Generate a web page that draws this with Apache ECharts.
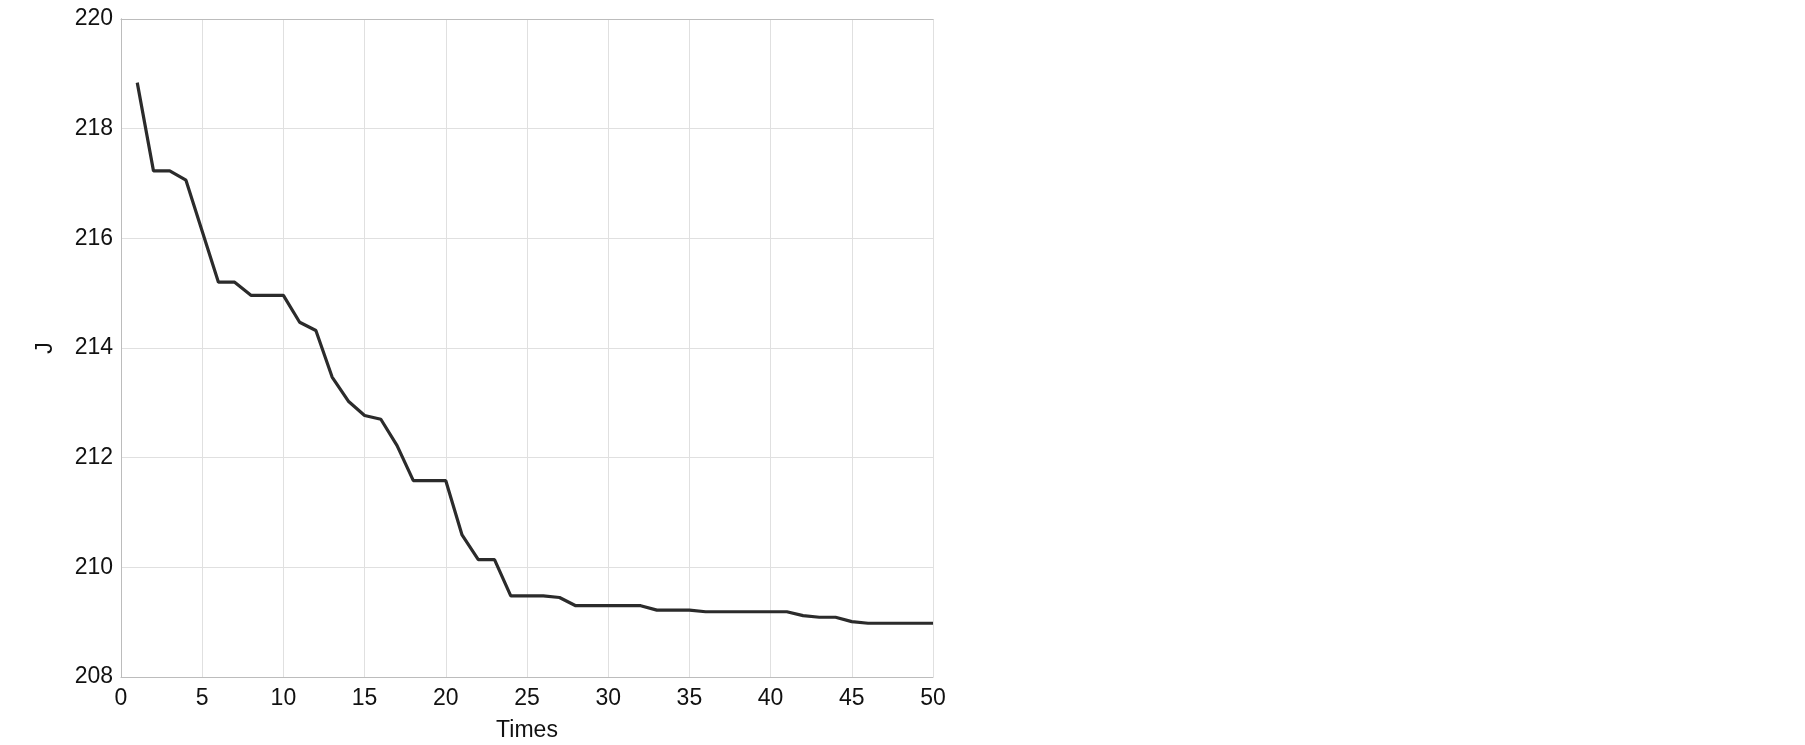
<!DOCTYPE html>
<html>
<head>
<meta charset="utf-8">
<script src="https://cdn.jsdelivr.net/npm/echarts@6/dist/echarts.min.js"></script>
<style>
html,body{margin:0;padding:0;background:#fff;}
#chart{width:1805px;height:745px;}
</style>
</head>
<body>
<div id="chart"></div>
<script>
const times = [1,2,3,4,5,6,7,8,9,10,11,12,13,14,15,16,17,18,19,20,21,22,23,24,25,26,27,28,29,30,31,32,33,34,35,36,37,38,39,40,41,42,43,44,45,46,47,48,49,50];
const jValues = [218.84,217.23,217.23,217.06,216.13,215.20,215.20,214.96,214.96,214.96,
  214.47,214.32,213.47,213.03,212.77,212.70,212.22,211.58,211.58,211.58,
  210.59,210.14,210.14,209.48,209.48,209.48,209.45,209.30,209.30,209.30,
  209.30,209.30,209.22,209.22,209.22,209.19,209.19,209.19,209.19,209.19,
  209.19,209.12,209.09,209.09,209.01,208.98,208.98,208.98,208.98,208.98];
const xTicks = {min:0, max:50, interval:5};
const yTicks = {min:208, max:220, interval:2};
const xName = 'Times';
const yName = 'J';

const chart = echarts.init(document.getElementById('chart'), null, {renderer:'canvas'});
const font = 'Arial, "Liberation Sans", sans-serif';
const gridLine = {show:true, lineStyle:{color:'#e0e0e0', width:1}};
const axisLine = {show:true, lineStyle:{color:'#bcbcbc', width:1}};
const noTick = {show:false};
chart.setOption({
  animation:false,
  backgroundColor:'#fff',
  grid:{left:121, top:19, right:872, bottom:68, containLabel:false, outerBoundsMode:'none'},
  xAxis:[{
    type:'value', min:xTicks.min, max:xTicks.max, interval:xTicks.interval,
    name:xName, nameLocation:'middle', nameGap:42,
    nameTextStyle:{fontFamily:font, fontSize:23, color:'#111'},
    axisLine:axisLine, axisTick:noTick, splitLine:gridLine,
    axisLabel:{fontFamily:font, fontSize:23, color:'#111', margin:10}
  },{
    type:'value', position:'top', min:xTicks.min, max:xTicks.max, interval:xTicks.interval,
    axisLine:axisLine, axisTick:noTick, splitLine:{show:false}, axisLabel:{show:false}
  }],
  yAxis:[{
    type:'value', min:yTicks.min, max:yTicks.max, interval:yTicks.interval,
    name:yName, nameLocation:'middle', nameGap:64,
    nameTextStyle:{fontFamily:font, fontSize:23, color:'#111'},
    axisLine:axisLine, axisTick:noTick, splitLine:gridLine,
    axisLabel:{fontFamily:font, fontSize:23, color:'#111', margin:8}
  },{
    type:'value', position:'right', min:yTicks.min, max:yTicks.max, interval:yTicks.interval,
    axisLine:axisLine, axisTick:noTick, splitLine:{show:false}, axisLabel:{show:false}
  }],
  series:[{
    type:'line', xAxisIndex:0, yAxisIndex:0,
    data: times.map((t,i)=>[t, jValues[i]]),
    showSymbol:false, symbol:'none',
    lineStyle:{color:'#2b2b2b', width:3.2}
  }]
});
</script>
</body>
</html>
